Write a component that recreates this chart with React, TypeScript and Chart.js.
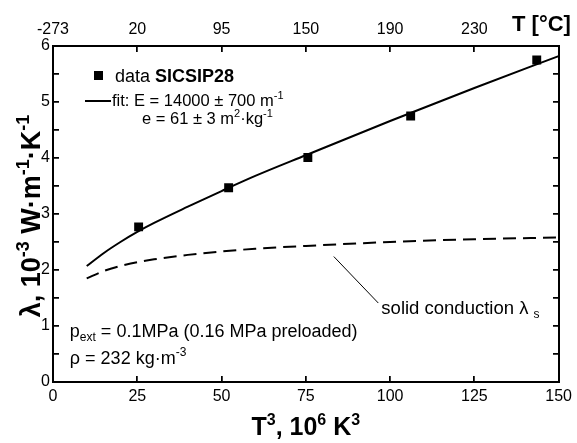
import React, { useEffect, useRef } from 'react';
import { Chart, registerables } from 'chart.js';

Chart.register(...registerables);

// ---- data ----
const dataX = [25.4, 52.1, 75.6, 106.1, 143.5];
const dataY = [2.77, 3.47, 4.01, 4.75, 5.75];
const curveX = [10, 15, 20, 25, 30, 40, 50, 60, 75, 100, 125, 150];
const fitY = [2.07, 2.3, 2.5, 2.68, 2.84, 3.13, 3.41, 3.68, 4.05, 4.66, 5.25, 5.82];
const solidY = [1.85, 1.98, 2.07, 2.14, 2.19, 2.27, 2.33, 2.38, 2.43, 2.5, 2.55, 2.58];
const bottomTicks = [0, 25, 50, 75, 100, 125, 150];
const topTickValues = [0, 25, 50, 75, 100, 125];
const topTickLabels = ['-273', '20', '95', '150', '190', '230'];
const yMinorTicks = [0, 0.5, 1, 1.5, 2, 2.5, 3, 3.5, 4, 4.5, 5, 5.5, 6];

const X_MIN = 0;
const X_MAX = 150;
const Y_MIN = 0;
const Y_MAX = 6;
const W = 577;
const H = 443;

const FONT = '"Liberation Sans", Arial, Helvetica, sans-serif';

type Seg = { t: string; v?: 'sup' | 'sub'; b?: boolean };

function segFont(seg: Seg, size: number, bold: boolean) {
  const b = seg.b !== undefined ? seg.b : bold;
  const s = seg.v ? Math.round(size * 0.65) : size;
  return (b ? 'bold ' : '') + s + 'px ' + FONT;
}

function drawRich(
  ctx: CanvasRenderingContext2D,
  x: number,
  y: number,
  segs: Seg[],
  size: number,
  bold: boolean,
  align: 'left' | 'center'
) {
  ctx.save();
  ctx.fillStyle = '#000';
  ctx.textBaseline = 'alphabetic';
  ctx.textAlign = 'left';
  let total = 0;
  const widths = segs.map((s) => {
    ctx.font = segFont(s, size, bold);
    const w = ctx.measureText(s.t).width;
    total += w;
    return w;
  });
  let cx = align === 'center' ? x - total / 2 : x;
  segs.forEach((s, i) => {
    ctx.font = segFont(s, size, bold);
    const dy = s.v === 'sup' ? -size * 0.4 : s.v === 'sub' ? size * 0.22 : 0;
    ctx.fillText(s.t, cx, y + dy);
    cx += widths[i];
  });
  ctx.restore();
}

function drawFrameTicks(ctx: CanvasRenderingContext2D, chart: any) {
  const xs = chart.scales.x;
  const ys = chart.scales.y;
  const l = Math.round(xs.getPixelForValue(X_MIN));
  const r = Math.round(xs.getPixelForValue(X_MAX));
  const t = Math.round(ys.getPixelForValue(Y_MAX));
  const b = Math.round(ys.getPixelForValue(Y_MIN));
  ctx.save();
  ctx.setLineDash([]);
  ctx.globalAlpha = 1;
  ctx.fillStyle = '#000';
  ctx.fillRect(l - 1, t - 1, r - l + 2, 2);
  ctx.fillRect(l - 1, b - 1, r - l + 2, 2);
  ctx.fillRect(l - 1, t - 1, 2, b - t + 2);
  ctx.fillRect(r - 1, t - 1, 2, b - t + 2);
  yMinorTicks.forEach((v) => {
    const py = Math.round(ys.getPixelForValue(v));
    ctx.fillRect(l, py - 1, 6, 1.5);
    ctx.fillRect(r - 6, py - 1, 6, 1.5);
  });
  bottomTicks.forEach((v) => {
    const px = Math.round(xs.getPixelForValue(v));
    ctx.fillRect(px - 1, b - 6, 1.5, 6);
  });
  topTickValues.forEach((v) => {
    const px = Math.round(xs.getPixelForValue(v));
    ctx.fillRect(px - 1, t, 1.5, 6);
  });
  ctx.restore();
}

function drawTexts(ctx: CanvasRenderingContext2D, chart: any) {
  const xs = chart.scales.x;
  const ys = chart.scales.y;
  const l = xs.getPixelForValue(X_MIN);
  const r = xs.getPixelForValue(X_MAX);
  const t = ys.getPixelForValue(Y_MAX);
  const b = ys.getPixelForValue(Y_MIN);

  ctx.save();
  ctx.fillStyle = '#000';
  ctx.strokeStyle = '#000';

  drawRich(
    ctx,
    (l + r) / 2,
    435,
    [{ t: 'T' }, { t: '3', v: 'sup' }, { t: ', 10' }, { t: '6', v: 'sup' }, { t: ' K' }, { t: '3', v: 'sup' }],
    25,
    true,
    'center'
  );

  ctx.save();
  ctx.translate(40, (t + b) / 2 + 2);
  ctx.rotate(-Math.PI / 2);
  drawRich(
    ctx,
    0,
    0,
    [
      { t: 'λ, 10' },
      { t: '-3', v: 'sup' },
      { t: ' W·m' },
      { t: '-1', v: 'sup' },
      { t: '·K' },
      { t: '-1', v: 'sup' },
    ],
    27,
    true,
    'center'
  );
  ctx.restore();

  drawRich(ctx, 512, 31, [{ t: 'T [°C]' }], 22, true, 'left');

  // legend
  ctx.fillRect(94, 71, 9, 9);
  drawRich(ctx, 115, 82, [{ t: 'data ' }, { t: 'SICSIP28', b: true }], 18, false, 'left');
  ctx.fillRect(85, 100, 26, 2);
  drawRich(ctx, 112, 106, [{ t: 'fit: E = 14000 ± 700 m' }, { t: '-1', v: 'sup' }], 16.5, false, 'left');
  drawRich(
    ctx,
    142,
    124,
    [{ t: 'e = 61 ± 3 m' }, { t: '2', v: 'sup' }, { t: '·kg' }, { t: '-1', v: 'sup' }],
    16.5,
    false,
    'left'
  );

  // annotations
  ctx.lineWidth = 1;
  ctx.beginPath();
  ctx.moveTo(xs.getPixelForValue(83.3), ys.getPixelForValue(2.24));
  ctx.lineTo(xs.getPixelForValue(96.5), ys.getPixelForValue(1.41));
  ctx.stroke();
  drawRich(
    ctx,
    xs.getPixelForValue(97.4),
    ys.getPixelForValue(1.21),
    [{ t: 'solid conduction λ ' }, { t: 's', v: 'sub' }],
    18.5,
    false,
    'left'
  );
  drawRich(
    ctx,
    xs.getPixelForValue(5),
    ys.getPixelForValue(0.81),
    [{ t: 'p' }, { t: 'ext', v: 'sub' }, { t: ' = 0.1MPa (0.16 MPa preloaded)' }],
    18,
    false,
    'left'
  );
  drawRich(
    ctx,
    xs.getPixelForValue(5),
    ys.getPixelForValue(0.33),
    [{ t: 'ρ = 232 kg·m' }, { t: '-3', v: 'sup' }],
    18,
    false,
    'left'
  );
  ctx.restore();
}

const noGrid = { display: false, drawTicks: false, tickLength: 0 };

export default function App() {
  const ref = useRef<HTMLCanvasElement | null>(null);
  const overlayRef = useRef<HTMLCanvasElement | null>(null);

  useEffect(() => {
    if (!ref.current) return;
    const overlayPlugin = {
      id: 'overlayDecor',
      afterDraw(chart: any) {
        drawFrameTicks(chart.ctx, chart);
        drawTexts(chart.ctx, chart);
        const ov = overlayRef.current;
        if (ov) {
          const octx = ov.getContext('2d');
          if (octx) {
            octx.clearRect(0, 0, ov.width, ov.height);
            drawFrameTicks(octx, chart);
          }
        }
      },
    };
    const chart = new Chart(ref.current, {
      type: 'scatter',
      data: {
        datasets: [
          {
            label: 'data SICSIP28',
            data: dataX.map((x, i) => ({ x, y: dataY[i] })),
            pointStyle: 'rect',
            pointRadius: 6.3,
            pointBackgroundColor: '#000',
            pointBorderWidth: 0,
            showLine: false,
          },
          {
            label: 'fit',
            data: curveX.map((x, i) => ({ x, y: fitY[i] })),
            showLine: true,
            pointRadius: 0,
            borderColor: '#000',
            borderWidth: 2,
            cubicInterpolationMode: 'monotone',
          },
          {
            label: 'solid conduction',
            data: curveX.map((x, i) => ({ x, y: solidY[i] })),
            showLine: true,
            pointRadius: 0,
            borderColor: '#000',
            borderWidth: 2,
            borderDash: [13, 7],
            cubicInterpolationMode: 'monotone',
          },
        ],
      },
      options: {
        animation: false,
        responsive: true,
        maintainAspectRatio: false,
        layout: { padding: { left: 0, right: 16, top: 0, bottom: 0 } },
        plugins: { legend: { display: false }, tooltip: { enabled: false } },
        scales: {
          x: {
            type: 'linear',
            position: 'bottom',
            min: X_MIN,
            max: X_MAX,
            grid: noGrid,
            border: { display: false },
            afterBuildTicks: (s: any) => {
              s.ticks = bottomTicks.map((v) => ({ value: v }));
            },
            ticks: {
              color: '#000',
              font: { size: 16, family: FONT },
              padding: 5,
              maxRotation: 0,
              autoSkip: false,
            },
            afterFit: (s: any) => {
              s.height = 61;
            },
          },
          x2: {
            type: 'linear',
            position: 'top',
            min: X_MIN,
            max: X_MAX,
            grid: noGrid,
            border: { display: false },
            afterBuildTicks: (s: any) => {
              s.ticks = topTickValues.map((v) => ({ value: v }));
            },
            ticks: {
              color: '#000',
              font: { size: 16, family: FONT },
              padding: 7,
              maxRotation: 0,
              autoSkip: false,
              callback: (_v: any, i: number) => topTickLabels[i],
            },
            afterFit: (s: any) => {
              s.height = 46;
            },
          },
          y: {
            type: 'linear',
            position: 'left',
            min: Y_MIN,
            max: Y_MAX,
            grid: noGrid,
            border: { display: false },
            ticks: {
              stepSize: 1,
              color: '#000',
              font: { size: 16, family: FONT },
              padding: 3,
            },
            afterFit: (s: any) => {
              s.width = 53;
            },
          },
        },
      },
      plugins: [overlayPlugin],
    });
    return () => chart.destroy();
  }, []);

  return (
    <div style={{ position: 'absolute', left: 0, top: 0, width: W, height: H }}>
      <canvas ref={ref} />
      <canvas
        ref={overlayRef}
        width={W}
        height={H}
        style={{ position: 'absolute', left: 0, top: 0, width: W, height: H, pointerEvents: 'none' }}
      />
    </div>
  );
}
